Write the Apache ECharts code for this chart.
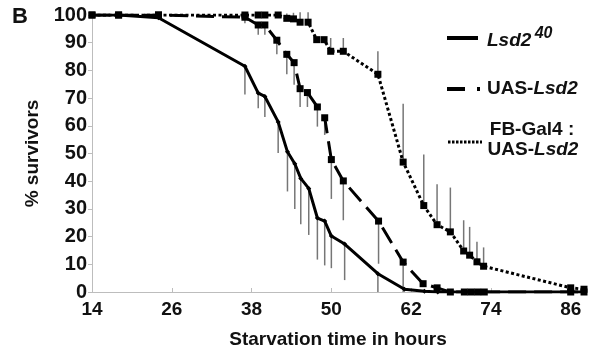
<!DOCTYPE html>
<html><head><meta charset="utf-8">
<script src="https://cdn.jsdelivr.net/npm/echarts@6/dist/echarts.min.js"></script>
<style>html,body{margin:0;padding:0;background:#fff}#c{width:595px;height:354px}</style>
</head><body><div id="c"></div>
<script>
// ---- data ----
const xTicks = [14, 26, 38, 50, 62, 74, 86];
const yTicks = [0, 10, 20, 30, 40, 50, 60, 70, 80, 90, 100];

const lsdHours  = [14, 18, 24, 37, 39, 40, 42, 43.4, 44.5, 45.4, 46.6, 47.9, 49, 50, 52, 57, 61, 64, 66, 68, 70, 71, 72, 73, 86, 88];
const lsdValues = [100, 100, 99, 81.5, 71.8, 70.6, 61.4, 50.6, 46.3, 41, 37.4, 26.7, 25.6, 20.2, 17.3, 6.6, 1, 0.3, 0, 0, 0, 0, 0, 0, 0, 0];
const lsdErrEnd = [null, null, null, 71.3, 66.3, 63.2, 50.2, 36.3, 30, 24.5, 20.6, 11.7, 9.6, 8.6, 4.3, 0, null, null, null, null, null, null, null, null, null, null];

const uasHours  = [14, 18, 24, 37, 39, 40, 41.8, 43.3, 44.4, 45.3, 46.4, 47.9, 49, 50, 51.8, 57.1, 60.8, 63.8, 65.9, 67.9, 70, 71, 72, 73, 86, 88];
const uasValues = [100, 100, 100, 99.2, 96.4, 96.4, 90.9, 85.8, 82.8, 73.4, 72, 66.8, 62.9, 47.8, 40.1, 25.6, 10.8, 3, 1.5, 0, 0, 0, 0, 0, 0, 0];
const uasErrEnd = [null, null, null, 97, 92.9, 92.9, 85.8, 78.6, 74.8, 66.8, 66.8, 59.7, 56.7, 33.6, 25.9, 10.2, 0, null, null, null, null, null, null, null, null, null];

const fbHours  = [14, 18, 24, 37, 39, 40, 42, 43.3, 44.3, 45.3, 46.5, 47.8, 48.9, 49.9, 51.8, 57, 60.8, 63.9, 65.9, 67.9, 69.9, 70.8, 71.9, 72.9, 86, 88];
const fbValues = [100, 100, 100, 100, 100, 100, 100, 98.8, 98.6, 97.4, 97.4, 91.1, 91.1, 86.9, 86.9, 78.6, 46.9, 31.2, 24.3, 21.7, 14.8, 13.3, 10.9, 9.3, 1.5, 1];
const fbErrEnd = [null, null, null, null, null, null, null, 100.5, 100.8, 101, 101, null, null, 91.7, 91.7, 86.9, 68, 49.6, 38.9, 37.7, 25.9, 23.5, 18.1, 16.1, null, null];

const seriesNames = ['Lsd2 40', 'UAS-Lsd2', 'FB-Gal4 : UAS-Lsd2'];

// ---- build ----
const pairs = (xs, ys) => xs.map((x, i) => [x, ys[i]]);
const errs = (xs, ys, es) => xs.map((x, i) => [x, ys[i], es[i]]).filter(d => d[2] !== null);

const FONT = 'Liberation Sans, Arial, sans-serif';

function errRender(params, api) {
  const x = api.value(0), a = api.value(1), b = api.value(2);
  const p1 = api.coord([x, a]), p2 = api.coord([x, b]);
  return {type: 'line', shape: {x1: p1[0], y1: p1[1], x2: p2[0], y2: p2[1]},
          style: {stroke: '#767676', lineWidth: 1.5}};
}

const chart = echarts.init(document.getElementById('c'), null, {renderer: 'canvas'});
chart.setOption({
  animation: false,
  backgroundColor: '#fff',
  grid: {left: 92, top: 15, width: 492, bottom: 58, containLabel: false},
  xAxis: {
    type: 'value', min: 14, max: 88, interval: 12,
    axisLine: {show: true, lineStyle: {color: '#bdbdbd', width: 1}},
    axisTick: {show: true, inside: true, length: 4, lineStyle: {color: '#bdbdbd'}},
    splitLine: {show: false},
    axisLabel: {color: '#111', fontFamily: FONT, fontWeight: 'bold', fontSize: 19, margin: 8,
      formatter: v => xTicks.indexOf(v) >= 0 ? String(v) : ''},
    name: 'Starvation time in hours', nameLocation: 'middle', nameGap: 38,
    nameTextStyle: {color: '#111', fontFamily: FONT, fontWeight: 'bold', fontSize: 19}
  },
  yAxis: {
    type: 'value', min: 0, max: 100, interval: 10,
    axisLine: {show: true, lineStyle: {color: '#bdbdbd', width: 1}},
    axisTick: {show: true, length: 4, lineStyle: {color: '#bdbdbd'}},
    splitLine: {show: false},
    axisLabel: {color: '#111', fontFamily: FONT, fontWeight: 'bold', fontSize: 20, margin: 5,
      formatter: v => yTicks.indexOf(v) >= 0 ? String(v) : ''},
    name: '% survivors', nameLocation: 'middle', nameGap: 47, nameRotate: 90,
    nameTextStyle: {color: '#111', fontFamily: FONT, fontWeight: 'bold', fontSize: 19}
  },
  series: [
    {type: 'custom', renderItem: errRender, data: errs(lsdHours, lsdValues, lsdErrEnd), z: 1, clip: false},
    {type: 'custom', renderItem: errRender, data: errs(uasHours, uasValues, uasErrEnd), z: 1, clip: false},
    {type: 'custom', renderItem: errRender, data: errs(fbHours, fbValues, fbErrEnd), z: 1, clip: false},
    {name: seriesNames[2], type: 'line', data: pairs(fbHours, fbValues), z: 3,
      symbol: 'rect', symbolSize: 7, itemStyle: {color: '#000'},
      lineStyle: {color: '#000', width: 3, type: [3, 2.5]}},
    {name: seriesNames[1], type: 'line', data: pairs(uasHours, uasValues), z: 4,
      symbol: 'rect', symbolSize: 7, itemStyle: {color: '#000'},
      lineStyle: {color: '#000', width: 3, type: [18, 8]}},
    {name: seriesNames[0], type: 'line', data: pairs(lsdHours, lsdValues), z: 5,
      symbol: 'diamond', symbolSize: 5, itemStyle: {color: '#000'},
      lineStyle: {color: '#000', width: 3}}
  ],
  graphic: [
    {type: 'text', left: 12, top: 6, style: {text: 'B', fontFamily: FONT, fontWeight: 'bold', fontSize: 22, fill: '#111'}},
    // legend
    {type: 'line', shape: {x1: 447, y1: 38, x2: 478, y2: 38}, style: {stroke: '#000', lineWidth: 4}},
    {type: 'text', x: 487, y: 38, style: {
      text: '{i|Lsd2} {s|40}', verticalAlign: 'middle', fill: '#111',
      rich: {i: {fontFamily: FONT, fontWeight: 'bold', fontStyle: 'italic', fontSize: 19, verticalAlign: 'bottom'},
             s: {fontFamily: FONT, fontWeight: 'bold', fontStyle: 'italic', fontSize: 16, verticalAlign: 'top', padding: [0, 0, 9, 0]}}}},
    {type: 'line', shape: {x1: 447, y1: 89, x2: 465, y2: 89}, style: {stroke: '#000', lineWidth: 4}},
    {type: 'line', shape: {x1: 477, y1: 89, x2: 480, y2: 89}, style: {stroke: '#000', lineWidth: 4}},
    {type: 'text', x: 487, y: 89, style: {
      text: '{n|UAS-}{i|Lsd2}', verticalAlign: 'middle', fill: '#111',
      rich: {n: {fontFamily: FONT, fontWeight: 'bold', fontSize: 19},
             i: {fontFamily: FONT, fontWeight: 'bold', fontStyle: 'italic', fontSize: 19}}}},
    {type: 'line', shape: {x1: 448, y1: 142, x2: 482, y2: 142}, style: {stroke: '#000', lineWidth: 3, lineDash: [2.5, 1.5]}},
    {type: 'text', x: 532, y: 130, style: {
      text: '{n|FB-Gal4 :}', align: 'center', verticalAlign: 'middle', fill: '#111',
      rich: {n: {fontFamily: FONT, fontWeight: 'bold', fontSize: 19}}}},
    {type: 'text', x: 533, y: 150, style: {
      text: '{n|UAS-}{i|Lsd2}', align: 'center', verticalAlign: 'middle', fill: '#111',
      rich: {n: {fontFamily: FONT, fontWeight: 'bold', fontSize: 19},
             i: {fontFamily: FONT, fontWeight: 'bold', fontStyle: 'italic', fontSize: 19}}}}
  ]
});
</script></body></html>
